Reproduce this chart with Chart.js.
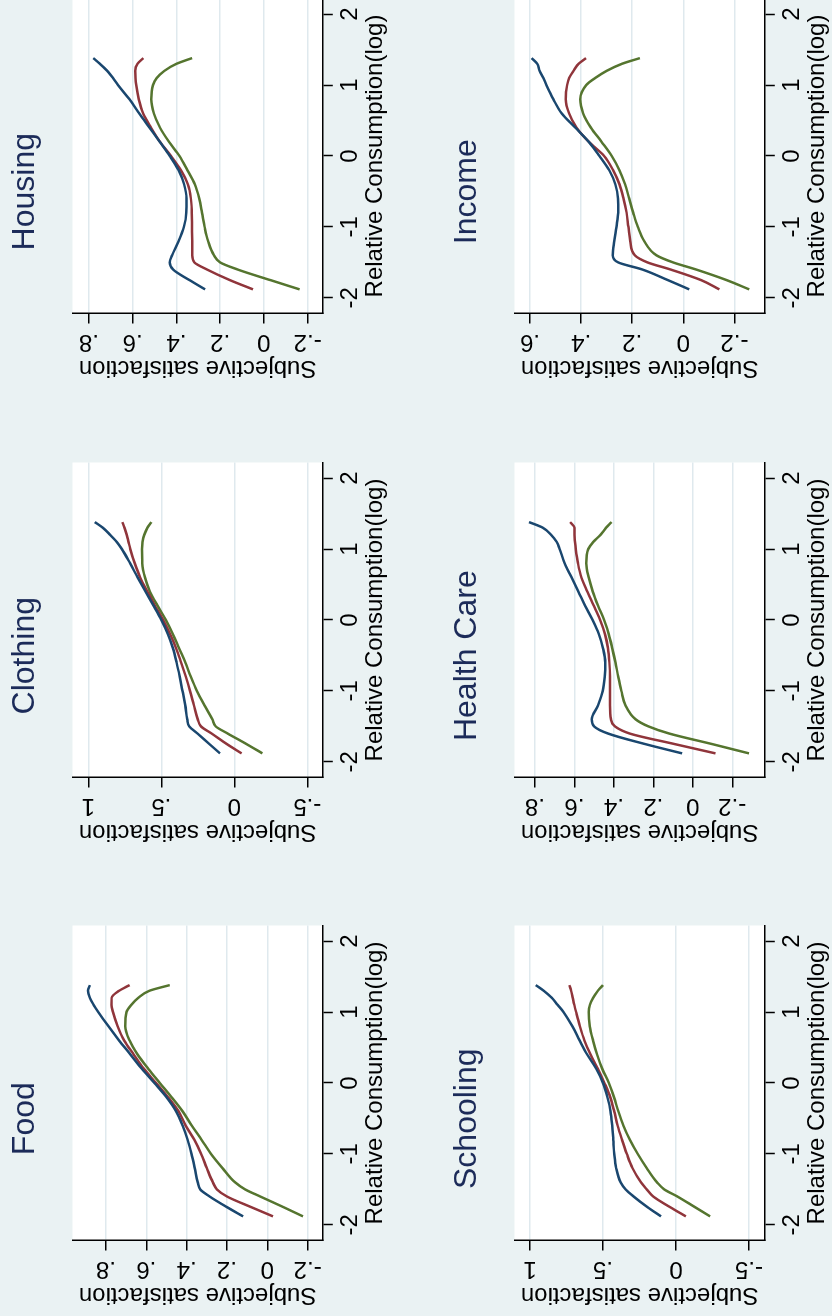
<!DOCTYPE html>
<html><head><meta charset="utf-8">
<script src="https://cdn.jsdelivr.net/npm/chart.js@4.4.1/dist/chart.umd.min.js"></script>
<style>
html,body{margin:0;padding:0;width:832px;height:1316px;overflow:hidden;background:#eaf2f3;}
#stage{position:absolute;left:0;top:0;width:1316px;height:832px;overflow:hidden;background:#eaf2f3;transform-origin:0 0;transform:translateY(1316px) rotate(-90deg);}
#stage canvas{position:absolute;}
</style></head><body><div id="stage"></div>
<script>
// ---- data ----
const relCons = [-1.88,-1.75,-1.6,-1.5,-1.4,-1.2,-1.0,-0.8,-0.6,-0.4,-0.2,0,0.2,0.4,0.6,0.8,1.0,1.1,1.2,1.3,1.38];
const xTicks = [-2,-1,0,1,2];
const panelTitles = ['Food','Clothing','Housing','Schooling','Health Care','Income'];

const foodA = [0.12,0.2,0.286,0.333,0.345,0.36,0.376,0.395,0.42,0.452,0.5,0.56,0.622,0.678,0.735,0.788,0.838,0.861,0.88,0.889,0.88];
const foodB = [-0.028,0.08,0.2,0.25,0.27,0.3,0.328,0.362,0.405,0.44,0.492,0.552,0.612,0.662,0.71,0.742,0.765,0.773,0.772,0.735,0.683];
const foodC = [-0.177,-0.08,0.035,0.11,0.16,0.222,0.279,0.326,0.375,0.42,0.475,0.533,0.59,0.643,0.683,0.704,0.698,0.675,0.64,0.585,0.484];

const clothA = [0.098,0.17,0.252,0.308,0.322,0.336,0.355,0.374,0.395,0.42,0.455,0.5,0.553,0.608,0.662,0.714,0.77,0.805,0.85,0.9,0.955];
const clothB = [-0.05,0.05,0.155,0.228,0.25,0.277,0.303,0.332,0.364,0.398,0.44,0.488,0.543,0.596,0.645,0.682,0.712,0.724,0.736,0.752,0.767];
const clothC = [-0.193,-0.085,0.045,0.127,0.15,0.205,0.256,0.298,0.335,0.378,0.42,0.468,0.525,0.578,0.612,0.63,0.632,0.628,0.617,0.595,0.568];

const houseA = [0.269,0.34,0.415,0.43,0.42,0.39,0.366,0.355,0.354,0.365,0.39,0.43,0.476,0.523,0.57,0.615,0.667,0.69,0.716,0.75,0.78];
const houseB = [0.05,0.155,0.26,0.318,0.328,0.328,0.329,0.33,0.334,0.348,0.38,0.425,0.475,0.516,0.552,0.572,0.584,0.587,0.588,0.578,0.551];
const houseC = [-0.163,-0.03,0.12,0.2,0.228,0.255,0.271,0.283,0.296,0.316,0.35,0.386,0.434,0.475,0.503,0.515,0.507,0.49,0.455,0.4,0.328];

const schoolA = [0.103,0.195,0.29,0.345,0.38,0.41,0.423,0.43,0.437,0.448,0.47,0.5,0.546,0.608,0.66,0.71,0.77,0.81,0.85,0.905,0.96];
const schoolB = [-0.067,0.04,0.156,0.2,0.24,0.298,0.337,0.37,0.4,0.423,0.45,0.49,0.535,0.585,0.627,0.658,0.684,0.696,0.707,0.718,0.73];
const schoolC = [-0.234,-0.13,-0.01,0.08,0.13,0.2,0.262,0.316,0.36,0.395,0.425,0.46,0.505,0.54,0.568,0.59,0.598,0.59,0.568,0.535,0.5];

const healthA = [0.054,0.24,0.43,0.5,0.512,0.48,0.457,0.447,0.444,0.455,0.476,0.508,0.546,0.58,0.615,0.65,0.675,0.69,0.718,0.76,0.83];
const healthB = [-0.115,0.09,0.32,0.395,0.415,0.42,0.42,0.42,0.423,0.43,0.445,0.47,0.502,0.535,0.565,0.582,0.593,0.597,0.6,0.6,0.622];
const healthC = [-0.285,-0.1,0.12,0.225,0.29,0.342,0.362,0.378,0.392,0.408,0.426,0.45,0.48,0.507,0.528,0.54,0.53,0.505,0.468,0.44,0.412];

const incomeA = [-0.023,0.06,0.16,0.255,0.276,0.27,0.262,0.255,0.256,0.266,0.29,0.328,0.37,0.423,0.476,0.509,0.536,0.548,0.563,0.572,0.594];
const incomeB = [-0.141,-0.07,0.05,0.14,0.19,0.208,0.215,0.222,0.234,0.25,0.275,0.31,0.37,0.418,0.447,0.46,0.455,0.447,0.43,0.41,0.381];
const incomeC = [-0.258,-0.17,-0.05,0.04,0.105,0.153,0.178,0.196,0.212,0.228,0.25,0.28,0.32,0.362,0.392,0.404,0.38,0.345,0.3,0.24,0.17];

const ticksFood = [-0.2,0,0.2,0.4,0.6,0.8];
const ticksClothing = [-0.5,0,0.5,1];
const ticksHousing = [-0.2,0,0.2,0.4,0.6,0.8];
const ticksSchooling = [-0.5,0,0.5,1];
const ticksHealth = [-0.2,0,0.2,0.4,0.6,0.8];
const ticksIncome = [-0.2,0,0.2,0.4,0.6];

const yMin = [-0.275,-0.606,-0.269,-0.608,-0.365,-0.319];
const yMax = [0.966,1.108,0.875,1.106,0.904,0.661];
const xMin = -2.22, xMax = 2.22;

// ---- build ----
const panelSeries = [[foodA,foodB,foodC],[clothA,clothB,clothC],[houseA,houseB,houseC],
                     [schoolA,schoolB,schoolC],[healthA,healthB,healthC],[incomeA,incomeB,incomeC]];
const panelTicks = [ticksFood,ticksClothing,ticksHousing,ticksSchooling,ticksHealth,ticksIncome];
const lineColors = ['#1a476f','#90353b','#55752f'];

const FONT = '"Liberation Sans", Arial, Helvetica, sans-serif';
Chart.defaults.font.family = FONT;
Chart.defaults.color = '#000';

const W = 440, H = 400;
const colLeft = [0, 463, 927], rowTop = [0, 442];
const PL = 4.1, PLOT_L = 75.5, PLOT_R = 390.5, PLOT_T = 72.5, PLOT_B = 322.8;

function fmt(v){
  if (Math.abs(v) < 1e-9) return '0';
  const s = (Math.round(v*10)/10).toString();
  return s.replace(/^(-?)0\./, '$1.');
}

const plotBg = { id:'plotBg', beforeDraw(chart){
  const {ctx, chartArea:a} = chart;
  ctx.save(); ctx.fillStyle = '#ffffff';
  ctx.fillRect(a.left, a.top, a.right - a.left, a.bottom - a.top);
  ctx.restore();
}};

const stage = document.getElementById('stage');
panelTitles.forEach((title, i) => {
  const cv = document.createElement('canvas');
  cv.width = W; cv.height = H;
  cv.style.left = colLeft[i % 3] + 'px';
  cv.style.top = rowTop[Math.floor(i / 3)] + 'px';
  stage.appendChild(cv);
  const ticks = panelTicks[i];
  new Chart(cv, {
    type: 'line',
    data: {
      datasets: panelSeries[i].map((ys, k) => ({
        data: relCons.map((x, j) => ({x: x, y: ys[j]})),
        borderColor: lineColors[k], borderWidth: 2.5, pointRadius: 0,
        fill: false, cubicInterpolationMode: 'monotone'
      }))
    },
    options: {
      responsive: false, animation: false, devicePixelRatio: 1,
      layout: { padding: { left: PL, right: W - PLOT_R, top: 0, bottom: 0 } },
      plugins: {
        legend: { display: false }, tooltip: { enabled: false },
        title: { display: true, text: title, color: '#1c2b59',
          font: { size: 32, weight: 'normal', lineHeight: 1.2 },
          padding: { top: 5.9, bottom: PLOT_T - 5.9 - 38.4 } }
      },
      scales: {
        x: {
          type: 'linear', min: xMin, max: xMax,
          afterBuildTicks: s => { s.ticks = xTicks.map(v => ({value: v})); },
          afterFit: s => { s.height = H - PLOT_B; },
          grid: { drawOnChartArea: false, drawTicks: true, tickLength: 10, tickColor: '#000', tickWidth: 1.5 },
          border: { display: true, color: '#000', width: 1.5 },
          ticks: { font: { size: 24 }, padding: 3.0, maxRotation: 0, minRotation: 0, autoSkip: false, callback: v => fmt(v) },
          title: { display: true, text: 'Relative Consumption(log)', font: { size: 24 }, padding: { top: 0, bottom: 10.4 } }
        },
        y: {
          type: 'linear', min: yMin[i], max: yMax[i],
          afterBuildTicks: s => { s.ticks = ticks.map(v => ({value: v})); },
          afterFit: s => { s.width = PLOT_L - PL; },
          grid: { color: '#dfe9ee', lineWidth: 1.5, drawTicks: true, tickLength: 10, tickColor: '#000', tickWidth: 1.5 },
          border: { display: true, color: '#000', width: 1.5 },
          ticks: { font: { size: 24 }, minRotation: 90, maxRotation: 90, crossAlign: 'center', padding: 4.3, autoSkip: false, callback: v => fmt(v) },
          title: { display: true, text: 'Subjective satisfaction', font: { size: 24 }, padding: { top: 3.2, bottom: 0 } }
        }
      }
    },
    plugins: [plotBg]
  });
});
</script></body></html>
